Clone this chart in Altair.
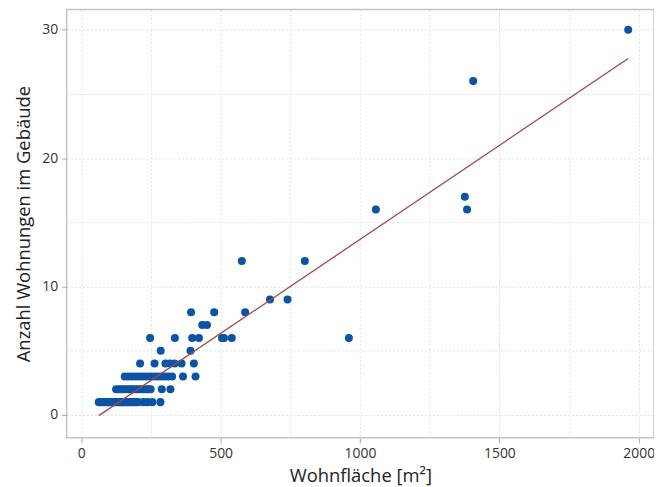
import altair as alt
import pandas as pd

# Wohnfläche [m²] values per row of "Anzahl Wohnungen"
row1_x = [63, 68, 74, 80, 86, 92, 97, 103, 110, 116, 121, 128, 134, 140, 147, 152,
          158, 165, 171, 178, 184, 190, 197, 203, 222, 238, 255, 284]
row2_x = [125, 134, 143, 152, 161, 170, 179, 188, 197, 206, 215, 224, 233, 241, 249, 289, 320]
row3_x = [156, 169, 182, 195, 208, 221, 234, 247, 260, 273, 286, 299, 312, 326, 365, 410]
row4_x = [211, 263, 302, 318, 335, 360, 404]
row5_x = [285, 392]
row6_x = [247, 336, 398, 422, 505, 512, 540, 960]
row7_x = [434, 451]
row8_x = [394, 477, 588]
row9_x = [677, 740]
row12_x = [576, 802]
row16_x = [1057, 1384]
row17_x = [1376]
row26_x = [1406]
row30_x = [1962]

rows = {1: row1_x, 2: row2_x, 3: row3_x, 4: row4_x, 5: row5_x, 6: row6_x, 7: row7_x,
        8: row8_x, 9: row9_x, 12: row12_x, 16: row16_x, 17: row17_x, 26: row26_x, 30: row30_x}

# fitted line
fit_x = [63, 1962]
fit_y = [-0.05, 27.76]

x_grid = [0, 250, 500, 750, 1000, 1250, 1500, 1750, 2000]
y_grid = [0, 5, 10, 15, 20, 25, 30]

pts = pd.DataFrame([{"flaeche": x, "anzahl": y} for y, xs in rows.items() for x in xs])
fit = pd.DataFrame({"flaeche": fit_x, "anzahl": fit_y})

xscale = alt.Scale(domain=[-52.4, 2054.6], nice=False, zero=False)
yscale = alt.Scale(domain=[-1.78, 31.58], nice=False, zero=False)

common = dict(
    grid=True, gridColor="#e2e2e2", gridDash=[2, 2], domain=False,
    tickSize=5, labelFontSize=14, labelColor="#333333", labelPadding=4,
    titleFontSize=18.5, titleFontWeight="normal", titleColor="#222222",
    labelFont="Open Sans", titleFont="Open Sans", format="d",
)
xaxis = alt.Axis(
    title="Wohnfläche [m²]", values=x_grid,
    labelExpr="datum.value % 500 === 0 ? datum.label : ''",
    tickColor={"condition": {"test": "datum.value % 500 === 0", "value": "#a8a8a8"}, "value": "transparent"},
    titlePadding=6, **common,
)
yaxis = alt.Axis(
    title="Anzahl Wohnungen im Gebäude", values=y_grid,
    labelExpr="datum.value % 10 === 0 ? datum.label : ''",
    tickColor={"condition": {"test": "datum.value % 10 === 0", "value": "#a8a8a8"}, "value": "transparent"},
    titlePadding=8, **common,
)

points = alt.Chart(pts).mark_circle(size=65, opacity=1, color="#0a53a5").encode(
    x=alt.X("flaeche:Q", scale=xscale, axis=xaxis),
    y=alt.Y("anzahl:Q", scale=yscale, axis=yaxis),
)
line = alt.Chart(fit).mark_line(color="#a4474d", strokeWidth=1.3).encode(
    x=alt.X("flaeche:Q", scale=xscale),
    y=alt.Y("anzahl:Q", scale=yscale),
)

chart = alt.layer(points, line).properties(
    width=591, height=431,
    autosize=alt.AutoSizeParams(type="none"),
    padding={"left": 59, "top": 0, "right": 0, "bottom": 48},
).configure_view(stroke="#c4c4c4", strokeWidth=1.5)

chart.save("out.html", embed_options={"renderer": "svg", "actions": False})
